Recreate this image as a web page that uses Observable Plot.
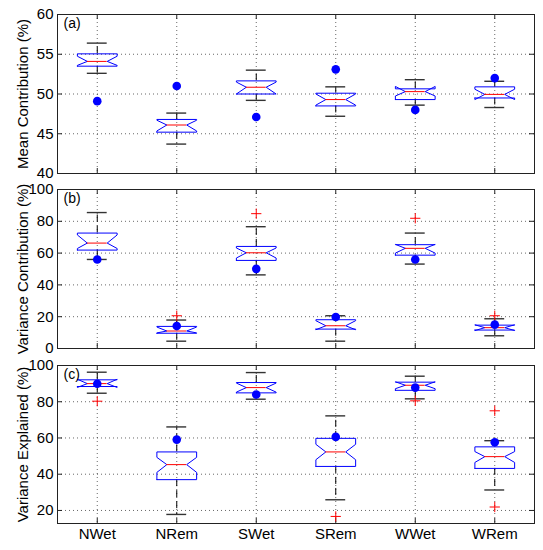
<!DOCTYPE html>
<html><head><meta charset="utf-8">
<script src="https://cdn.jsdelivr.net/npm/d3@7"></script>
<script src="https://cdn.jsdelivr.net/npm/@observablehq/plot@0.6"></script>
<style>
body{margin:0;background:#fff;}
#chart{position:relative;width:543px;height:550px;}
#chart svg{display:block;overflow:visible;background:transparent;}
</style></head><body><div id="chart"></div>
<script>
const categories = ["NWet","NRem","SWet","SRem","WWet","WRem"];

// (a) Mean Contribution (%)
const aUpperWhisker = [56.4, 47.6, 53.0, 50.9, 51.8, 51.6];
const aQ3           = [55.05, 46.8, 51.65, 50.1, 50.65, 50.9];
const aMedian       = [54.1, 46.1, 50.85, 49.3, 50.3, 49.95];
const aQ1           = [53.5, 45.2, 50.0, 48.5, 49.3, 49.5];
const aLowerWhisker = [52.6, 43.7, 49.2, 47.2, 48.6, 48.3];
const aNotchHi      = [54.75, 46.7, 51.5, 50.0, 50.95, 50.6];
const aNotchLo      = [53.6, 45.35, 50.0, 48.6, 49.75, 49.3];
const aObserved     = [49.1, 51.0, 47.1, 53.1, 48.0, 52.0];
const aOutlierCat   = [];
const aOutlierVal   = [];
const aTicks        = [40, 45, 50, 55, 60];

// (b) Variance Contribution (%)
const bUpperWhisker = [85.5, 17.9, 76.6, 20.6, 72.6, 18.7];
const bQ3           = [72.6, 13.9, 64.2, 18.1, 65.3, 14.7];
const bMedian       = [66.3, 11.0, 60.2, 14.3, 63.0, 13.1];
const bQ1           = [61.9, 9.6, 55.4, 12.2, 58.7, 11.6];
const bLowerWhisker = [56.0, 4.6, 46.3, 4.6, 53.1, 8.0];
const bNotchHi      = [71.4, 13.5, 63.2, 17.5, 65.5, 14.9];
const bNotchLo      = [62.9, 9.8, 56.9, 11.8, 60.0, 11.3];
const bObserved     = [56.0, 14.1, 50.1, 19.8, 56.0, 15.0];
const bOutlierCat   = ["NRem", "SWet", "WWet", "WRem"];
const bOutlierVal   = [20.6, 84.8, 81.9, 20.6];
const bTicks        = [0, 20, 40, 60, 80, 100];

// (c) Variance Explained (%)
const cUpperWhisker = [96.3, 66.1, 96.1, 72.2, 94.1, 58.5];
const cQ3           = [92.1, 52.3, 90.6, 59.8, 90.8, 55.1];
const cMedian       = [90.0, 45.3, 87.8, 52.3, 89.1, 49.7];
const cQ1           = [88.4, 37.0, 84.9, 44.3, 86.3, 43.2];
const cLowerWhisker = [84.7, 17.8, 81.4, 25.9, 81.6, 31.3];
const cNotchHi      = [92.4, 49.3, 90.3, 56.5, 91.0, 52.5];
const cNotchLo      = [87.9, 41.0, 85.3, 48.0, 87.2, 46.5];
const cObserved     = [89.9, 59.1, 84.0, 60.6, 87.8, 57.6];
const cOutlierCat   = ["NWet", "SRem", "WWet", "WRem", "WRem"];
const cOutlierVal   = [80.3, 16.7, 80.5, 75.0, 21.9];
const cTicks        = [20, 40, 60, 80, 100];

const W = 543, ML = 57, MR = 9;
const FONT = "'Liberation Sans', Arial, Helvetica, sans-serif";

function panel(o) {
  const boxes = categories.map((c, i) => ({
    c, x: i + 1, uw: o.uw[i], q3: o.q3[i], med: o.med[i], q1: o.q1[i],
    lw: o.lw[i], nhi: o.nhi[i], nlo: o.nlo[i], obs: o.obs[i]
  }));
  const hw = 0.25, nw = 0.125, cw = 0.125;
  const outline = boxes.flatMap(b => [
    [b.x - hw, b.q1], [b.x - hw, b.nlo], [b.x - nw, b.med], [b.x - hw, b.nhi], [b.x - hw, b.q3],
    [b.x + hw, b.q3], [b.x + hw, b.nhi], [b.x + nw, b.med], [b.x + hw, b.nlo], [b.x + hw, b.q1],
    [b.x - hw, b.q1]
  ].map(([x, y]) => ({c: b.c, x, y})));
  const outliers = o.outCat.map((c, i) => ({x: categories.indexOf(c) + 1, y: o.outVal[i]}));
  const xs = categories.map((c, i) => i + 1);
  const innerW = W - ML - MR;
  const innerH = o.height - o.marginTop - o.marginBottom;
  const tickLen = 5;
  const grid = {stroke: "#000", strokeOpacity: 0.75, strokeDasharray: "1,3", strokeWidth: 0.8};
  const marks = [
    Plot.gridY(o.ticks, grid),
    Plot.gridX(xs, grid),
    Plot.tickY(o.ticks, {y: d => d, insetRight: innerW - tickLen, stroke: "#222"}),
    Plot.tickY(o.ticks, {y: d => d, insetLeft: innerW - tickLen, stroke: "#222"}),
    Plot.tickX(xs, {x: d => d, insetTop: innerH - tickLen, stroke: "#222"}),
    Plot.tickX(xs, {x: d => d, insetBottom: innerH - tickLen, stroke: "#222"}),
    Plot.ruleX(boxes, {x: "x", y1: "q3", y2: "uw", stroke: "#000", strokeDasharray: "7,4"}),
    Plot.ruleX(boxes, {x: "x", y1: "q1", y2: "lw", stroke: "#000", strokeDasharray: "7,4"}),
    Plot.ruleY(boxes, {y: "uw", x1: d => d.x - cw, x2: d => d.x + cw, stroke: "#333", strokeWidth: 1.4}),
    Plot.ruleY(boxes, {y: "lw", x1: d => d.x - cw, x2: d => d.x + cw, stroke: "#333", strokeWidth: 1.4}),
    Plot.line(outline, {x: "x", y: "y", z: "c", stroke: "#0000ff", strokeWidth: 1}),
    Plot.ruleY(boxes, {y: "med", x1: d => d.x - nw, x2: d => d.x + nw, stroke: "#ff0000", strokeWidth: 1}),
    Plot.dot(outliers, {x: "x", y: "y", symbol: "plus", r: 3.4, stroke: "#ff0000", strokeWidth: 1}),
    Plot.dot(boxes, {x: "x", y: "obs", r: 4.3, fill: "#0000ff", stroke: "none"}),
    Plot.frame({stroke: "#222", strokeWidth: 1}),
    Plot.text([o.tag], {frameAnchor: "top-left", dx: 6, dy: 4, lineAnchor: "top", textAnchor: "start", fontSize: 14}),
    Plot.axisY(o.ticks, {anchor: "left", tickSize: 0, tickPadding: 4, fontSize: 15,
      label: o.label, labelAnchor: "center", labelOffset: 40, labelArrow: "none"})
  ];
  if (o.showX) {
    marks.push(Plot.axisX(xs, {anchor: "bottom", tickSize: 0, tickPadding: 5, fontSize: 15,
      tickFormat: d => categories[d - 1], label: null}));
  }
  return Plot.plot({
    width: W, height: o.height,
    marginLeft: ML, marginRight: MR, marginTop: o.marginTop, marginBottom: o.marginBottom,
    style: {fontFamily: FONT, fontSize: "15px", color: "#000", background: "transparent", overflow: "visible"},
    x: {type: "linear", domain: [0.5, 6.5], axis: null},
    y: {domain: o.domain, axis: null},
    marks
  });
}

const chart = document.getElementById("chart");
chart.append(
  panel({uw: aUpperWhisker, q3: aQ3, med: aMedian, q1: aQ1, lw: aLowerWhisker, nhi: aNotchHi, nlo: aNotchLo,
    obs: aObserved, outCat: aOutlierCat, outVal: aOutlierVal, domain: [40, 60], ticks: aTicks,
    label: "Mean Contribution (%)", tag: "(a)", height: 178, marginTop: 14, marginBottom: 5}),
  panel({uw: bUpperWhisker, q3: bQ3, med: bMedian, q1: bQ1, lw: bLowerWhisker, nhi: bNotchHi, nlo: bNotchLo,
    obs: bObserved, outCat: bOutlierCat, outVal: bOutlierVal, domain: [0, 100], ticks: bTicks,
    label: "Variance Contribution (%)", tag: "(b)", height: 178, marginTop: 11, marginBottom: 8}),
  panel({uw: cUpperWhisker, q3: cQ3, med: cMedian, q1: cQ1, lw: cLowerWhisker, nhi: cNotchHi, nlo: cNotchLo,
    obs: cObserved, outCat: cOutlierCat, outVal: cOutlierVal, domain: [12.8, 100], ticks: cTicks,
    label: "Variance Explained (%)", tag: "(c)", height: 194, marginTop: 9, marginBottom: 27, showX: true})
);
</script></body></html>
